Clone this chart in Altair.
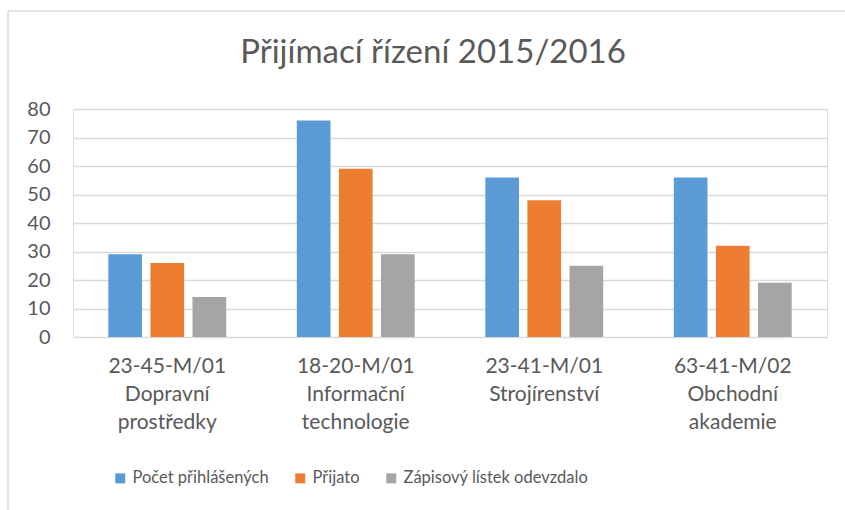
import altair as alt
import pandas as pd

categories = [
    "23-45-M/01|Dopravní|prostředky",
    "18-20-M/01|Informační|technologie",
    "23-41-M/01|Strojírenství",
    "63-41-M/02|Obchodní|akademie",
]
series = ["Počet přihlášených", "Přijato", "Zápisový lístek odevzdalo"]
prihlaseno = [29, 76, 56, 56]
prijato = [26, 59, 48, 32]
zapisovy = [14, 29, 25, 19]
colors = ["#5B9BD5", "#ED7D31", "#A5A5A5"]
title_text = "Přijímací řízení 2015/2016"

rows = []
for i, c in enumerate(categories):
    for s, vals in zip(series, [prihlaseno, prijato, zapisovy]):
        rows.append({"obor": c, "serie": s, "hodnota": vals[i]})
df = pd.DataFrame(rows)

FONT = "Lato"
TXT = "#595959"
GRID = "#D9D9D9"

bars = alt.Chart(df).mark_bar().encode(
    x=alt.X("obor:N", sort=categories, title=None,
            scale=alt.Scale(paddingInner=0.33, paddingOuter=0.165),
            axis=alt.Axis(labelExpr="split(datum.label, '|')", labelAngle=0,
                          domain=False, ticks=False, labelPadding=18,
                          labelFont=FONT, labelFontSize=21, labelColor=TXT,
                          labelLineHeight=28, labelBaseline="top")),
    xOffset=alt.XOffset("serie:N", sort=series,
                        scale=alt.Scale(paddingInner=0.2, paddingOuter=0.1)),
    y=alt.Y("hodnota:Q", title=None,
            scale=alt.Scale(domain=[0, 80], nice=False),
            axis=alt.Axis(values=list(range(0, 81, 10)), domain=False, ticks=False,
                          gridColor=GRID, gridWidth=1.3, labelPadding=23,
                          labelFont=FONT, labelFontSize=20, labelColor=TXT)),
    color=alt.Color("serie:N", sort=series, title=None,
                    scale=alt.Scale(domain=series, range=colors),
                    legend=alt.Legend(orient="none", direction="horizontal",
                                      legendX=39, legendY=361,
                                      symbolType="square", symbolSize=100,
                                      symbolStrokeWidth=0, columnPadding=23,
                                      labelOffset=4, labelFont=FONT,
                                      labelFontSize=16.5, labelColor=TXT,
                                      labelLimit=0)),
)

one = alt.Data(values=[{"k": 1}])
left_border = alt.Chart(one).mark_rule(color=GRID, strokeWidth=1.5).encode(
    x=alt.value(-65), y=alt.value(-98), y2=alt.value(420))
top_border = alt.Chart(one).mark_rule(color=GRID, strokeWidth=1.5).encode(
    y=alt.value(-98), x=alt.value(-65), x2=alt.value(800))
title = alt.Chart(one).mark_text(font=FONT, fontSize=33, color=TXT,
                                 align="center", baseline="alphabetic").encode(
    x=alt.value(360), y=alt.value(-46), text=alt.value(title_text))

chart = alt.layer(left_border, top_border, title, bars).properties(
    width=754, height=228,
    padding={"left": 73, "top": 109, "right": 18, "bottom": 173},
    autosize=alt.AutoSizeParams(type="none"),
).configure_view(stroke=None).configure(background="white")

chart.save("out.html", embed_options={"renderer": "svg", "actions": False})
